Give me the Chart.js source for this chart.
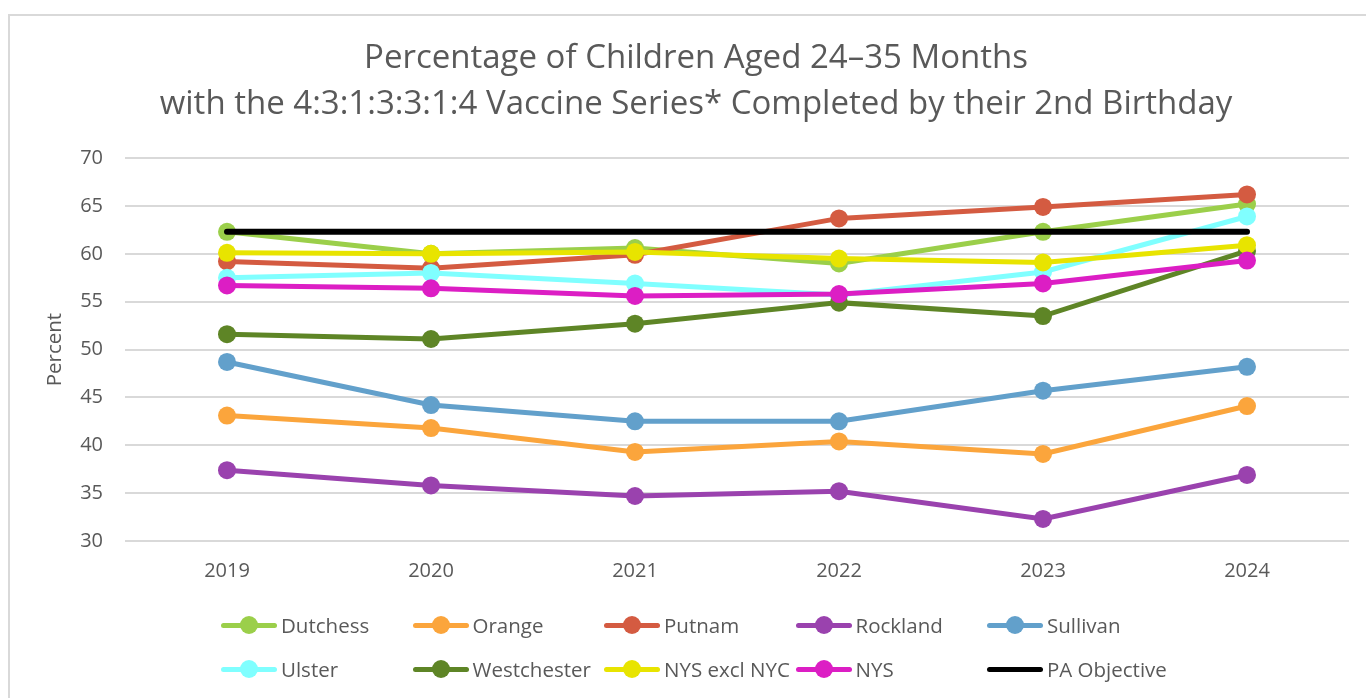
<!DOCTYPE html>
<html>
<head>
<meta charset="utf-8">
<script src="https://cdn.jsdelivr.net/npm/chart.js@4"></script>
<style>
  html, body { margin: 0; padding: 0; background: #fff; }
  body { width: 1366px; height: 698px; position: relative; overflow: hidden; font-family: "Open Sans", Lato, sans-serif; }
  #frame { position: absolute; left: 8px; top: 14px; width: 1400px; height: 700px; border-left: 2px solid #d9d9d9; border-top: 2px solid #d9d9d9; box-sizing: border-box; }
  #wrap { position: absolute; left: 0; top: 0; width: 1366px; height: 698px; }
  #legend { position: absolute; left: 221px; top: 611px; display: grid; grid-template-columns: repeat(5, 191.5px); grid-auto-rows: 44px; }
  .item { display: flex; align-items: center; height: 28px; font-size: 20.5px; color: #595959; white-space: nowrap; }
  .sym { position: relative; width: 56px; height: 20px; margin-right: 4px; flex: none; }
  .sym .ln { position: absolute; left: 0; right: 0; top: 8px; height: 5px; border-radius: 3px; }
  .sym .dot { position: absolute; left: 19px; top: 1px; width: 18px; height: 18px; border-radius: 50%; }
</style>
</head>
<body>
<div id="frame"></div>
<div id="wrap"><canvas id="chart" width="1366" height="698"></canvas></div>
<div id="legend"></div>
<script>
const years = ["2019", "2020", "2021", "2022", "2023", "2024"];

const dutchess    = [62.3, 60.0, 60.6, 59.0, 62.3, 65.2];
const orange      = [43.1, 41.8, 39.3, 40.4, 39.1, 44.1];
const putnam      = [59.2, 58.5, 59.9, 63.7, 64.9, 66.2];
const rockland    = [37.4, 35.8, 34.7, 35.2, 32.3, 36.9];
const sullivan    = [48.7, 44.2, 42.5, 42.5, 45.7, 48.2];
const ulster      = [57.5, 58.0, 56.9, 55.7, 58.1, 63.9];
const westchester = [51.6, 51.1, 52.7, 54.9, 53.5, 60.3];
const nysExclNyc  = [60.1, 60.0, 60.2, 59.5, 59.1, 60.9];
const nys         = [56.7, 56.4, 55.6, 55.8, 56.9, 59.3];
const paObjective = [62.3, 62.3, 62.3, 62.3, 62.3, 62.3];

const seriesNames = ["Dutchess", "Orange", "Putnam", "Rockland", "Sullivan",
                     "Ulster", "Westchester", "NYS excl NYC", "NYS", "PA Objective"];
const seriesData = [dutchess, orange, putnam, rockland, sullivan,
                    ulster, westchester, nysExclNyc, nys, paObjective];
const seriesColors = ["#9bcf4a", "#fba53c", "#d45b41", "#9a42ae", "#62a0cb",
                      "#80ffff", "#5e8526", "#e8e400", "#dc1ec4", "#000000"];

const yTicks = { min: 30, max: 70, step: 5 };

const textColor = "#595959";
const font = "'Open Sans', Lato, sans-serif";

const datasets = seriesNames.map((name, i) => {
    const isObjective = name === "PA Objective";
    return {
        label: name,
        data: seriesData[i],
        borderColor: seriesColors[i],
        backgroundColor: seriesColors[i],
        borderWidth: isObjective ? 6 : 5,
        pointRadius: isObjective ? 0 : 9,
        pointHoverRadius: isObjective ? 0 : 9,
        pointBorderWidth: 0,
        borderCapStyle: "round",
        tension: 0,
        fill: false,
        order: seriesNames.length - i   // later series drawn on top
    };
});

new Chart(document.getElementById("chart").getContext("2d"), {
    type: "line",
    data: { labels: years, datasets: datasets },
    options: {
        responsive: false,
        animation: false,
        layout: { padding: { left: 43, right: 17, top: 0, bottom: 107 } },
        plugins: {
            legend: { display: false },
            tooltip: { enabled: false },
            title: {
                display: true,
                text: ["Percentage of Children Aged 24\u201335 Months",
                       "with the 4:3:1:3:3:1:4 Vaccine Series* Completed by their 2nd Birthday"],
                color: textColor,
                font: { family: font, size: 33, weight: "normal", lineHeight: 1.38 },
                padding: { top: 36, bottom: 31 }
            }
        },
        scales: {
            x: {
                offset: true,
                grid: { display: false, drawTicks: false },
                border: { display: false },
                ticks: { color: textColor, font: { family: font, size: 20 }, padding: 18 },
                afterFit: (s) => { s.height = 50; }
            },
            y: {
                min: yTicks.min,
                max: yTicks.max,
                ticks: { stepSize: yTicks.step, color: textColor, font: { family: font, size: 20 }, padding: 22 },
                grid: { color: "#d9d9d9", lineWidth: 2, drawTicks: false },
                border: { display: false },
                title: { display: true, text: "Percent", color: textColor, font: { family: font, size: 20.5 }, padding: 0 },
                afterFit: (s) => { s.width = 82; }
            }
        }
    }
});

// legend laid out in fixed columns like the original
const legend = document.getElementById("legend");
seriesNames.forEach((name, i) => {
    const item = document.createElement("div");
    item.className = "item";
    const sym = document.createElement("span");
    sym.className = "sym";
    const ln = document.createElement("span");
    ln.className = "ln";
    ln.style.background = seriesColors[i];
    sym.appendChild(ln);
    if (name !== "PA Objective") {
        const dot = document.createElement("span");
        dot.className = "dot";
        dot.style.background = seriesColors[i];
        sym.appendChild(dot);
    }
    item.appendChild(sym);
    item.appendChild(document.createTextNode(name));
    legend.appendChild(item);
});
</script>
</body>
</html>
